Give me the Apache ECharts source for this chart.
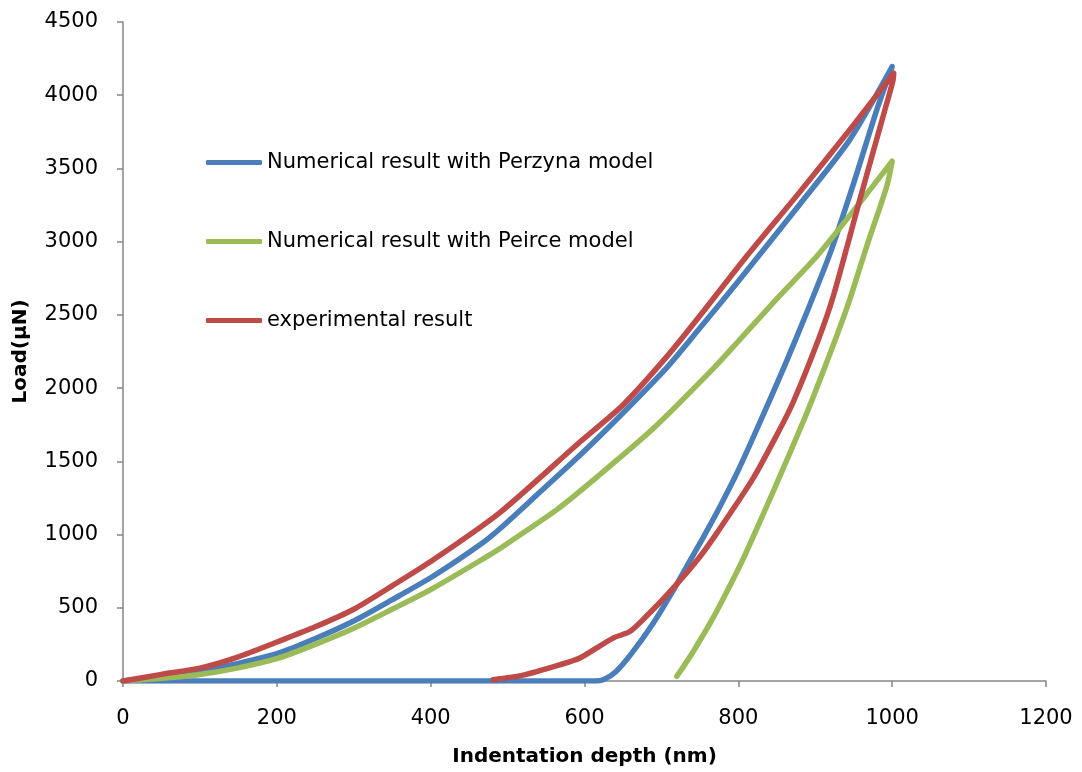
<!DOCTYPE html>
<html>
<head>
<meta charset="utf-8">
<script src="https://cdn.jsdelivr.net/npm/echarts@6/dist/echarts.min.js"></script>
<style>
html,body{margin:0;padding:0;background:#fff;}
#chart{width:1082px;height:772px;}
</style>
</head>
<body>
<div id="chart"></div>
<script>
// ---- data ----
var seriesNames = ['Numerical result with Perzyna model', 'Numerical result with Peirce model', 'experimental result'];
var xTicks = [0, 200, 400, 600, 800, 1000, 1200];
var yTicks = [0, 500, 1000, 1500, 2000, 2500, 3000, 3500, 4000, 4500];

// Perzyna (blue): loading then unloading, then flat back along zero
var perzynaDepth = [0, 50, 100, 150, 202, 250, 300, 350, 403, 464, 490, 540, 594, 650, 707, 750, 800, 880, 945, 1000,
                    980, 950, 920, 890, 860, 830, 800, 770, 750, 737, 715, 690, 660, 640, 625, 615, 0];
var perzynaLoad  = [0, 25, 66, 120, 190, 290, 410, 555, 715, 930, 1040, 1280, 1541, 1830, 2140, 2410, 2730, 3256, 3697, 4196,
                    3900, 3400, 2930, 2530, 2150, 1790, 1440, 1130, 940, 820, 615, 400, 180, 60, 10, 0, 0];

// Peirce (green)
var peirceDepth = [0, 50, 100, 150, 202, 250, 300, 350, 403, 473, 490, 564, 620, 689, 767, 800, 850, 902, 958, 1000,
                   993, 967, 945, 928, 889, 850, 824, 806, 790, 767, 740, 720];
var peirceLoad  = [0, 18, 44, 90, 156, 250, 360, 490, 633, 849, 905, 1170, 1410, 1722, 2131, 2320, 2610, 2900, 3266, 3549,
                   3379, 2970, 2607, 2358, 1830, 1350, 1040, 830, 660, 429, 190, 32];

// Experimental (red)
var expDepth = [0, 50, 100, 150, 202, 250, 300, 350, 403, 490, 594, 650, 707, 750, 810, 880, 945, 1002,
                1001, 993, 958, 923, 904, 871, 850, 819, 772, 750, 715, 680, 659, 637, 594, 568, 520, 481];
var expLoad  = [0, 45, 88, 165, 270, 370, 490, 650, 826, 1150, 1632, 1885, 2215, 2494, 2895, 3340, 3765, 4150,
                4100, 3946, 3288, 2620, 2330, 1900, 1680, 1382, 1010, 849, 633, 440, 338, 293, 157, 111, 40, 9];

var colors = ['#4A7EBB', '#9BBB59', '#BE4B48'];

function zip(a, b) { return a.map(function (v, i) { return [v, b[i]]; }); }

var FONT = 'DejaVu Sans';
var chart = echarts.init(document.getElementById('chart'), null, {renderer: 'canvas'});

function mkSeries(name, d, l, c) {
  return {
    name: name, type: 'line', data: zip(d, l), smooth: 0.25, showSymbol: false, symbol: 'none',
    color: c,
    lineStyle: {color: c, width: 5.5, cap: 'round', join: 'round'},
    animation: false
  };
}

chart.setOption({
  animation: false,
  backgroundColor: '#ffffff',
  grid: {left: 123, right: 36, top: 22, bottom: 89, containLabel: false},
  legend: {
    orient: 'vertical', left: 201, top: 147, itemGap: 58, itemWidth: 56, itemHeight: 5,
    icon: 'roundRect',
    data: seriesNames,
    textStyle: {fontFamily: FONT, fontSize: 21, color: '#000'}
  },
  xAxis: {
    type: 'value', min: 0, max: 1200, interval: 200,
    name: 'Indentation depth (nm)', nameLocation: 'middle', nameGap: 66,
    nameTextStyle: {fontFamily: FONT, fontSize: 20, fontWeight: 'bold', color: '#000'},
    axisLine: {show: true, lineStyle: {color: '#868686', width: 1.5}},
    axisTick: {show: true, length: 6, inside: false, lineStyle: {color: '#868686', width: 1.5}},
    axisLabel: {fontFamily: FONT, fontSize: 21, color: '#000', margin: 27,
      formatter: function (v) { return xTicks.indexOf(v) >= 0 ? String(v) : ''; }},
    splitLine: {show: false}
  },
  yAxis: {
    type: 'value', min: 0, max: 4500, interval: 500,
    name: 'Load(μN)', nameLocation: 'middle', nameGap: 92, nameRotate: 90,
    nameTextStyle: {fontFamily: FONT, fontSize: 20, fontWeight: 'bold', color: '#000'},
    axisLine: {show: true, lineStyle: {color: '#868686', width: 1.5}},
    axisTick: {show: true, length: 6, inside: false, lineStyle: {color: '#868686', width: 1.5}},
    axisLabel: {fontFamily: FONT, fontSize: 21, color: '#000', margin: 25,
      formatter: function (v) { return yTicks.indexOf(v) >= 0 ? String(v) : ''; }},
    splitLine: {show: false}
  },
  series: [
    mkSeries(seriesNames[0], perzynaDepth, perzynaLoad, colors[0]),
    mkSeries(seriesNames[1], peirceDepth, peirceLoad, colors[1]),
    mkSeries(seriesNames[2], expDepth, expLoad, colors[2])
  ]
});
</script>
</body>
</html>
